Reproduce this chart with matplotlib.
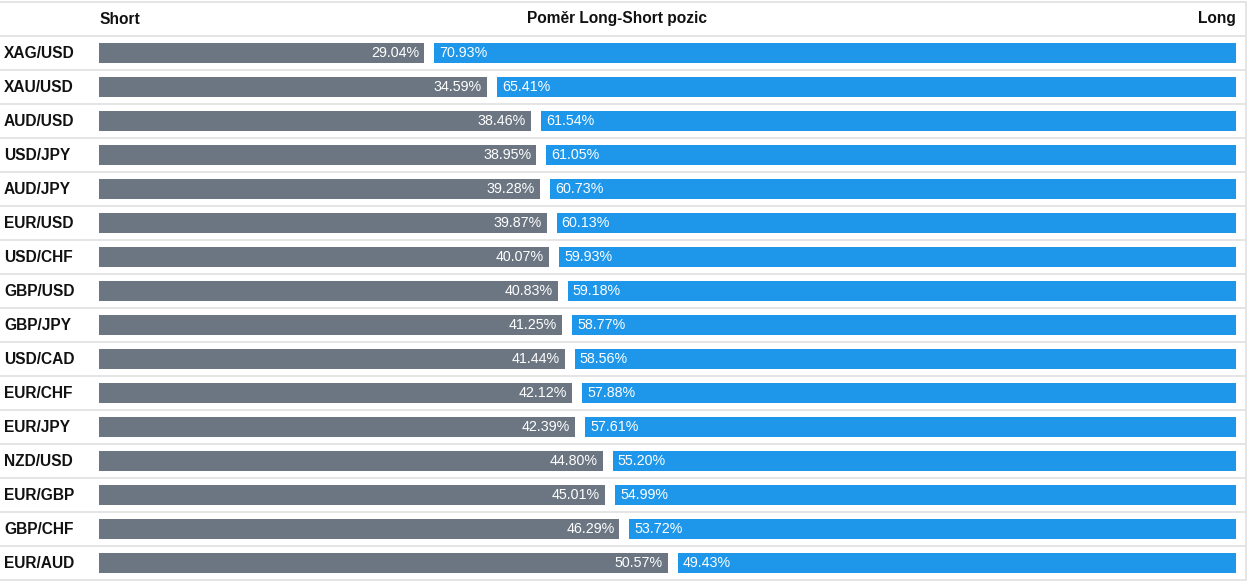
import matplotlib
matplotlib.use("Agg")
import matplotlib.pyplot as plt

pairs = ["XAG/USD", "XAU/USD", "AUD/USD", "USD/JPY", "AUD/JPY", "EUR/USD", "USD/CHF",
         "GBP/USD", "GBP/JPY", "USD/CAD", "EUR/CHF", "EUR/JPY", "NZD/USD", "EUR/GBP",
         "GBP/CHF", "EUR/AUD"]
short_pct = [29.04, 34.59, 38.46, 38.95, 39.28, 39.87, 40.07, 40.83, 41.25, 41.44,
             42.12, 42.39, 44.80, 45.01, 46.29, 50.57]
long_pct = [70.93, 65.41, 61.54, 61.05, 60.73, 60.13, 59.93, 59.18, 58.77, 58.56,
            57.88, 57.61, 55.20, 54.99, 53.72, 49.43]
header_left = "Short"
header_mid = "Poměr Long-Short pozic"
header_right = "Long"

W, H, DPI = 1252, 584, 100
GRAY = "#6b7682"
BLUE = "#1e97eb"
GRID = "#e3e3e3"

plt.rcParams['font.family'] = ['Liberation Sans', 'DejaVu Sans']

fig = plt.figure(figsize=(W / DPI, H / DPI), dpi=DPI)
ax = fig.add_axes([0, 0, 1, 1])
ax.set_axis_off()

# pixel geometry mapping: value 0 at pixel x0, pxu pixels per percent
x0 = 95
pxu = 11.33
ax.set_xlim(-x0 / pxu, (W - x0) / pxu)
pad_l = 4 / pxu    # inner margin before short bar
gap = 10 / pxu     # gap between short and long bar
pad_r = 2 / pxu    # inner margin after long bar

row_h = 34
top_px = 2
n = len(pairs)
y_top = -1 - (top_px + row_h / 2) / row_h
y_bot = y_top + H / row_h
ax.set_ylim(y_bot, y_top)

ys = list(range(n))
bh = 20 / row_h
ax.barh(ys, [s - pad_l for s in short_pct], height=bh, left=pad_l, color=GRAY)
long_left = [s + gap for s in short_pct]
ax.barh(ys, [l - pad_r for l in long_pct], height=bh, left=long_left, color=BLUE)

# table lines
left_border = -x0 / pxu
right_border = (1246 - x0) / pxu
for b in range(-1, n + 1):
    yb = b - 0.5 if b >= 0 else -1.5
    ax.plot([left_border, right_border], [yb, yb], color=GRID, lw=1.3,
            solid_capstyle='butt')
ax.plot([right_border, right_border], [-1.5, n - 0.5], color=GRID, lw=1.3)

for i, (p, s, l, ll) in enumerate(zip(pairs, short_pct, long_pct, long_left)):
    ax.text(left_border + 4 / pxu, i, p, ha='left', va='center', fontsize=11.2,
            fontweight='bold', color='#111111')
    ax.text(s - 5 / pxu, i, f"{s:.2f}%", ha='right', va='center', fontsize=10.3,
            color='white')
    ax.text(ll + 5 / pxu, i, f"{l:.2f}%", ha='left', va='center', fontsize=10.3,
            color='white')

ax.text(pad_l, -1, header_left, ha='left', va='center', fontsize=11.2,
        fontweight='bold', color='#111111')
ax.text((617 - x0) / pxu, -1, header_mid, ha='center', va='center', fontsize=11.2,
        fontweight='bold', color='#111111')
ax.text((1236 - x0) / pxu, -1, header_right, ha='right', va='center', fontsize=11.2,
        fontweight='bold', color='#111111')

fig.savefig("out.png", dpi=DPI, facecolor='white')
